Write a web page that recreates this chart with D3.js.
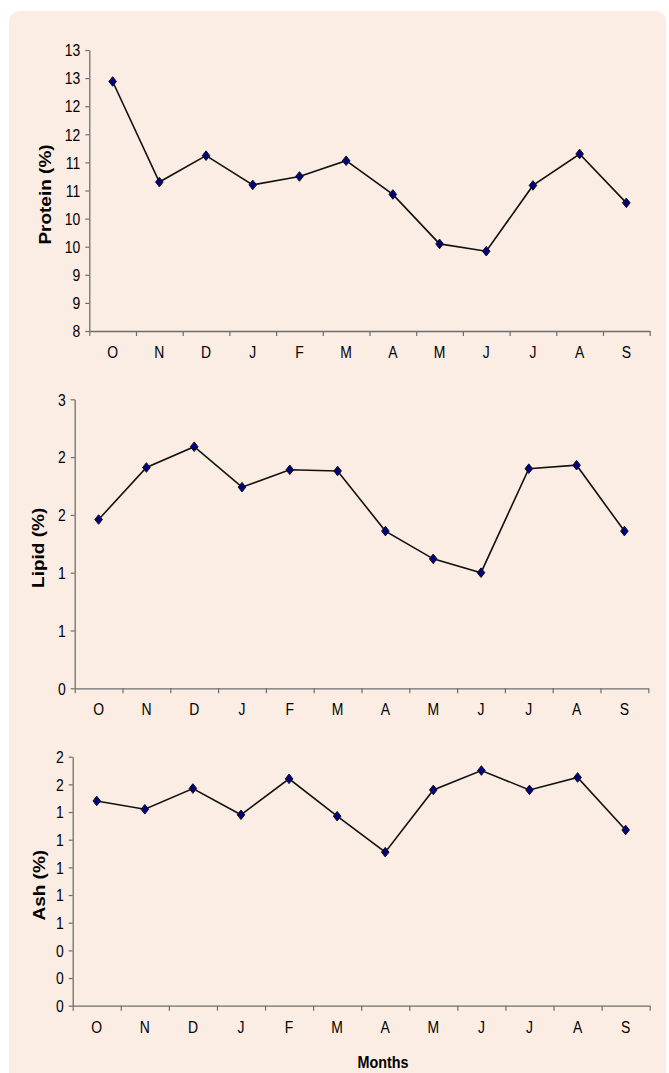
<!DOCTYPE html>
<html>
<head>
<meta charset="utf-8">
<script src="https://cdn.jsdelivr.net/npm/d3@7"></script>
<style>
    body { margin: 0; background: #fff; }
    svg { display: block; font-family: "Liberation Sans", Arial, sans-serif; }
</style>
</head>
<body>
<div id="chart"></div>
<script>
// months along the x axis (Oct -> Sep)
let months = ["O", "N", "D", "J", "F", "M", "A", "M", "J", "J", "A", "S"];

// values (%)
let protein = [12.44, 10.65, 11.12, 10.60, 10.75, 11.03, 10.43, 9.55, 9.42, 10.59, 11.15, 10.28];
let lipid = [1.46, 1.91, 2.09, 1.74, 1.89, 1.88, 1.36, 1.12, 1.00, 1.90, 1.93, 1.36];
let ash = [1.48, 1.42, 1.57, 1.38, 1.64, 1.37, 1.11, 1.56, 1.70, 1.56, 1.65, 1.27];

// y tick values (labels are rounded to whole numbers, like the original)
let proteinTicks = [8, 8.5, 9, 9.5, 10, 10.5, 11, 11.5, 12, 12.5, 13];
let lipidTicks = [0, 0.5, 1, 1.5, 2, 2.5];
let ashTicks = [0, 0.2, 0.4, 0.6, 0.8, 1.0, 1.2, 1.4, 1.6, 1.8];

let W = 669, H = 1073;
let sx = 0.87; // the picture is squeezed horizontally

let svg = d3.select("#chart").append("svg")
    .attr("width", W)
    .attr("height", H);

svg.append("rect")
    .attr("x", 9).attr("y", 11)
    .attr("width", 657).attr("height", H + 20)
    .attr("rx", 10)
    .attr("fill", "#fbede3");

let panels = [
    { name: "Protein (%)", values: protein, ticks: proteinTicks, left: 89.3, right: 649.7, top: 50, bottom: 331, labelX: 45 },
    { name: "Lipid (%)", values: lipid, ticks: lipidTicks, left: 74.7, right: 648.3, top: 399.3, bottom: 688.3, labelX: 38.5 },
    { name: "Ash (%)", values: ash, ticks: ashTicks, left: 72.7, right: 649.7, top: 756.7, bottom: 1005.7, labelX: 39 }
];

let axisColor = "#6e6e6e";

panels.forEach((p) => {
    let g = svg.append("g");

    let y = d3.scaleLinear()
        .domain([p.ticks[0], p.ticks[p.ticks.length - 1]])
        .range([p.bottom, p.top]);

    let xEdge = d3.scaleLinear()
        .domain([0, months.length])
        .range([p.left, p.right]);

    let x = d3.scaleBand()
        .domain(d3.range(months.length))
        .range([p.left, p.right]);

    // y axis
    let yAxis = d3.axisLeft(y)
        .tickValues(p.ticks)
        .tickSizeInner(4)
        .tickSizeOuter(0)
        .tickFormat(d => Math.round(d));

    let yg = g.append("g")
        .attr("transform", "translate(" + p.left + ",0)")
        .call(yAxis);
    yg.select(".domain").attr("stroke", axisColor).attr("stroke-width", 1.3);
    yg.selectAll(".tick line").attr("stroke", axisColor).attr("stroke-width", 1.2);
    yg.selectAll(".tick text")
        .attr("x", 0).attr("dy", "0.36em")
        .attr("transform", "translate(-9,0) scale(" + sx + ",1)")
        .attr("font-size", 16)
        .attr("fill", "#000");

    // x axis: ticks on the category edges
    let xAxis = d3.axisBottom(xEdge)
        .tickValues(d3.range(months.length + 1))
        .tickSizeInner(5)
        .tickSizeOuter(0)
        .tickFormat("");

    let xg = g.append("g")
        .attr("transform", "translate(0," + p.bottom + ")")
        .call(xAxis);
    xg.select(".domain").attr("stroke", axisColor).attr("stroke-width", 1.3);
    xg.selectAll(".tick line").attr("stroke", axisColor).attr("stroke-width", 1.2);

    // month labels centred in each band
    g.selectAll(".month")
        .data(months)
        .enter().append("text")
        .attr("class", "month")
        .attr("transform", (d, i) => "translate(" + (x(i) + x.bandwidth() / 2) + "," + (p.bottom + 27) + ") scale(" + sx + ",1)")
        .attr("text-anchor", "middle")
        .attr("font-size", 16)
        .attr("fill", "#000")
        .text(d => d);

    // y label
    g.append("text")
        .attr("transform", "translate(" + p.labelX + "," + ((p.top + p.bottom) / 2 + 4) + ") rotate(-90) scale(1," + sx + ")")
        .attr("text-anchor", "middle")
        .attr("dy", "0.35em")
        .attr("font-size", 19)
        .attr("font-weight", "bold")
        .attr("fill", "#000")
        .text(p.name);

    // line
    let line = d3.line()
        .x((d, i) => x(i) + x.bandwidth() / 2)
        .y(d => y(d));

    g.append("path")
        .datum(p.values)
        .attr("d", line)
        .attr("fill", "none")
        .attr("stroke", "#111")
        .attr("stroke-width", 1.6);

    // diamond markers
    g.selectAll(".marker")
        .data(p.values)
        .enter().append("path")
        .attr("class", "marker")
        .attr("transform", (d, i) => "translate(" + (x(i) + x.bandwidth() / 2) + "," + y(d) + ")")
        .attr("d", "M0,-4.8L3.8,0L0,4.8L-3.8,0Z")
        .attr("fill", "#000080")
        .attr("stroke", "#111")
        .attr("stroke-width", 1);
});

// bottom axis title
svg.append("text")
    .attr("transform", "translate(383,1068) scale(" + sx + ",1)")
    .attr("text-anchor", "middle")
    .attr("font-size", 16.5)
    .attr("font-weight", "bold")
    .attr("fill", "#000")
    .text("Months");
</script>
</body>
</html>
